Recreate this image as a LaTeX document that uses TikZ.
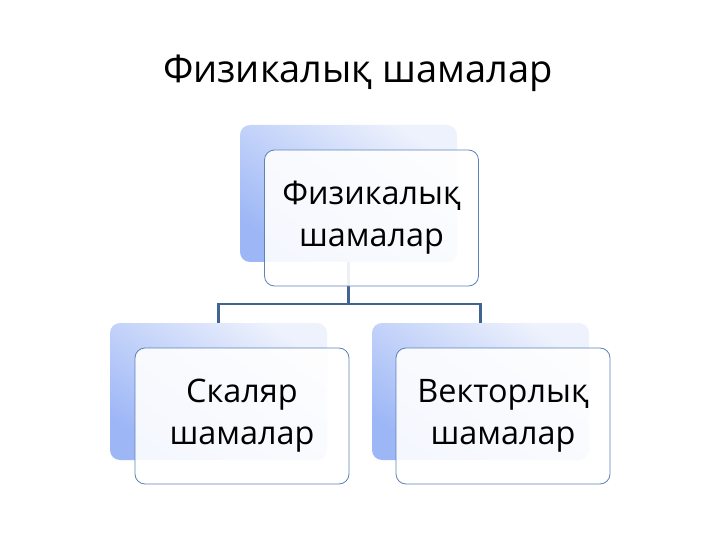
\documentclass[tikz,border=0pt]{standalone}
\usepackage{fontspec}
\setmainfont{Open Sans}
\begin{document}
\begin{tikzpicture}[x=1bp,y=-1bp,
  backbox/.style={rounded corners=10bp, top color=backtop, bottom color=backbot, shading angle=-35, draw=none},
  frontbox/.style={rounded corners=10bp, draw=frontline, line width=0.8bp, fill=white, fill opacity=0.9, text opacity=1, align=center, font=\fontsize{32.5}{42}\selectfont},
  conn/.style={draw=connline, line width=2.5bp}
]
\definecolor{backtop}{HTML}{EEF2FC}
\definecolor{backbot}{HTML}{9CB6F6}
\definecolor{frontline}{HTML}{5F82B8}
\definecolor{connline}{HTML}{416590}
\useasboundingbox (0,0) rectangle (720,540);
\node[font=\fontsize{38.2}{40}\selectfont, anchor=base] (title) at (358,83) {Физикалық шамалар};
% back boxes
\path[backbox] (240,125) rectangle (457,262);
\path[backbox] (110,323) rectangle (327,460);
\path[backbox] (372,323) rectangle (589,460);
\coordinate (pb) at (348.5,262);
\coordinate (lb) at (218.5,323);
\coordinate (rb) at (480.5,323);
\coordinate (mid) at (348.5,304);
\draw[conn] (pb) -- (mid) -| (lb);
\draw[conn] (mid) -| (rb);
% front boxes
\node[frontbox, minimum width=214bp, minimum height=136bp] (top) at (371.5,218) {Физикалық\\шамалар};
\node[frontbox, minimum width=214bp, minimum height=136bp] (left) at (242,416) {Скаляр\\шамалар};
\node[frontbox, minimum width=214bp, minimum height=136bp] (right) at (503,416) {Векторлық\\шамалар};
\end{tikzpicture}
\end{document}
